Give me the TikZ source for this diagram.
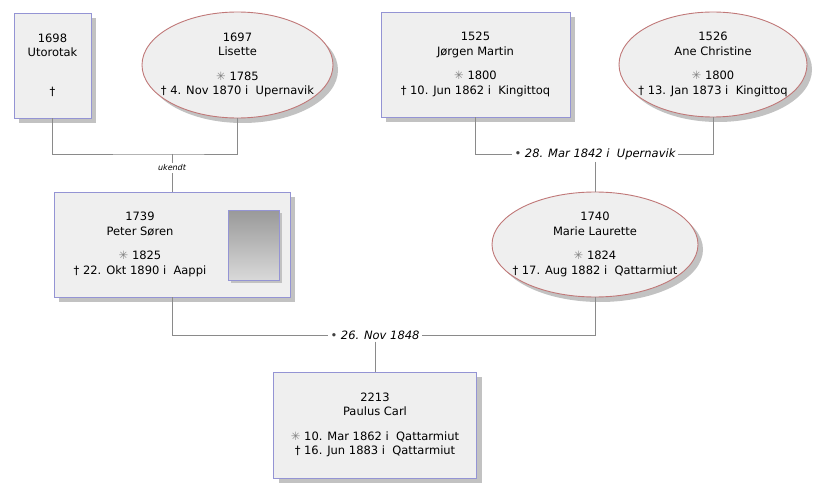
\documentclass[tikz,border=0pt]{standalone}
\usepackage{fontspec}
\setmainfont{DejaVu Sans}
\usetikzlibrary{positioning}
\usetikzlibrary{shapes.geometric}
\usetikzlibrary{shadows}

\definecolor{boxfill}{HTML}{EFEFEF}
\definecolor{maleline}{HTML}{9494D4}
\definecolor{femaleline}{HTML}{C07878}
\definecolor{shadowgray}{HTML}{C2C2C2}
\definecolor{linegray}{HTML}{8A8A8A}

\newcommand{\born}{{\color{gray}✳}}
\newcommand{\wedsym}{{\color{darkgray}•}}

\begin{document}
\begin{tikzpicture}[x=1pt,y=-1pt,
  every node/.style={font=\fontsize{11.5}{14.5}\selectfont, align=center},
  person/.style={fill=boxfill, line width=0.9pt,
    drop shadow={shadow xshift=5pt, shadow yshift=-5pt, fill=shadowgray, opacity=1}},
  male/.style={person, rectangle, draw=maleline},
  female/.style={person, ellipse, draw=femaleline, inner sep=0pt},
  wed/.style={font=\itshape\fontsize{11.5}{14.5}\selectfont, inner sep=2pt},
  famline/.style={draw=linegray, line width=0.8pt}]
\useasboundingbox (0,0) rectangle (825,500);

% grandparents
\node[male, minimum width=77pt, minimum height=105pt] (utorotak) at (52.5,65.5)
  {1698\\Utorotak\\[10pt]\strut\\†};
\node[female, minimum width=191pt, minimum height=106pt,
  label={center:{1697\\Lisette\\[10pt]\born{} 1785\\† 4. Nov 1870 i~ Upernavik}}] (lisette) at (237.5,65) {};
\node[male, minimum width=189pt, minimum height=105pt] (jorgen) at (475.5,64.5)
  {1525\\Jørgen Martin\\[10pt]\born{} 1800\\† 10. Jun 1862 i~ Kingittoq};
\node[female, minimum width=188pt, minimum height=105pt,
  label={center:{1526\\Ane Christine\\[10pt]\born{} 1800\\† 13. Jan 1873 i~ Kingittoq}}] (ane) at (713,64.5) {};

% parents
\node[male, minimum width=236pt, minimum height=105pt,
  label={[xshift=-32pt]center:{1739\\Peter Søren\\[10pt]\born{} 1825\\† 22. Okt 1890 i~ Aappi}}] (peter) at (172,244.5) {};
\node[draw=maleline, line width=0.6pt, top color=gray!80, bottom color=gray!30,
  minimum width=51pt, minimum height=70pt,
  drop shadow={shadow xshift=3pt, shadow yshift=-3pt, fill=shadowgray, opacity=1}] (peterfoto) at (253.5,245) {};
\node[female, minimum width=206pt, minimum height=105pt,
  label={center:{1740\\Marie Laurette\\[10pt]\born{} 1824\\† 17. Aug 1882 i~ Qattarmiut}}] (marie) at (595,244.5) {};

% child
\node[male, minimum width=203pt, minimum height=106pt] (paulus) at (375,425)
  {2213\\Paulus Carl\\[10pt]\born{} 10. Mar 1862 i~ Qattarmiut\\† 16. Jun 1883 i~ Qattarmiut};

% families
\coordinate (j1) at (172,154);
\node[font=\itshape\fontsize{8}{10}\selectfont, inner sep=2pt] (ukendt) at (172,168) {ukendt};
\node[wed] (m1) at (595,154) {\wedsym{} 28. Mar 1842 i~ Upernavik};
\node[wed] (m2) at (375,335) {\wedsym{} 26. Nov 1848};

\draw[famline] (utorotak.south) |- (j1) -| (lisette.south);
\draw[famline] (j1) -- (ukendt) (ukendt) -- (peter);
\draw[famline] (jorgen.south) |- (m1.west);
\draw[famline] (ane.south) |- (m1.east);
\draw[famline] (m1) -- (marie);
\draw[famline] (peter.south) |- (m2.west);
\draw[famline] (marie.south) |- (m2.east);
\draw[famline] (m2) -- (paulus);
\end{tikzpicture}
\end{document}
